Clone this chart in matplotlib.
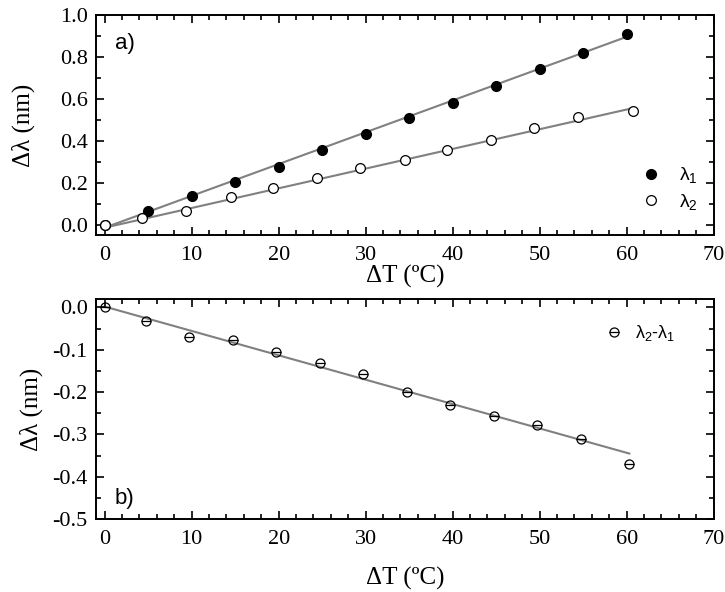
import matplotlib
matplotlib.use('Agg')
import matplotlib.pyplot as plt
from matplotlib.ticker import MultipleLocator

plt.rcParams['font.family'] = 'Liberation Serif'
plt.rcParams['mathtext.fontset'] = 'custom'
plt.rcParams['mathtext.rm'] = 'Liberation Sans'
plt.rcParams['mathtext.default'] = 'regular'

# panel a) data
t1 = [0, 5, 10, 15, 20, 25, 30, 35, 40, 45, 50, 55, 60]
lam1 = [0.0, 0.065, 0.135, 0.205, 0.275, 0.355, 0.43, 0.51, 0.58, 0.66, 0.74, 0.82, 0.91]
t2 = [0, 4.3, 9.3, 14.5, 19.4, 24.4, 29.4, 34.5, 39.4, 44.4, 49.4, 54.4, 60.7]
lam2 = [0.0, 0.03, 0.065, 0.13, 0.175, 0.22, 0.27, 0.31, 0.355, 0.405, 0.46, 0.515, 0.543]
fit1_x = [0, 60]
fit1_y = [-0.015, 0.895]
fit2_x = [0, 60.7]
fit2_y = [-0.015, 0.555]

# panel b) data
t3 = [0, 4.7, 9.7, 14.7, 19.7, 24.7, 29.7, 34.7, 39.7, 44.7, 49.7, 54.7, 60.3]
diff = [0.0, -0.033, -0.07, -0.078, -0.106, -0.132, -0.157, -0.2, -0.23, -0.256, -0.277, -0.31, -0.37]
fit3_x = [0, 60.3]
fit3_y = [0.002, -0.345]

fig = plt.figure(figsize=(7.25, 5.92), dpi=100)
ax1 = fig.add_axes([0.1324, 0.603, 0.852, 0.372])
ax2 = fig.add_axes([0.1324, 0.123, 0.852, 0.372])

line_col = '#808080'
ax1.plot(fit1_x, fit1_y, color=line_col, lw=1.5, zorder=1)
ax1.plot(fit2_x, fit2_y, color=line_col, lw=1.5, zorder=1)
ax1.plot(t1, lam1, 'o', color='black', ms=7, ls='none', label='λ$_1$', zorder=3)
ax1.plot(t2, lam2, 'o', mfc='white', mec='black', mew=0.9, ms=7, ls='none', label='λ$_2$', zorder=3)

ax2.plot(fit3_x, fit3_y, color=line_col, lw=1.5, zorder=1)
h_circ, = ax2.plot(t3, diff, 'o', mfc='none', mec='black', mew=0.9, ms=6.5, ls='none', zorder=3)
h_bar, = ax2.plot(t3, diff, '_', color='black', mew=0.9, ms=6.5, ls='none', zorder=3)

for ax in (ax1, ax2):
    ax.set_xlim(-1, 70)
    ax.xaxis.set_major_locator(MultipleLocator(10))
    ax.xaxis.set_minor_locator(MultipleLocator(2))
    ax.tick_params(which='both', direction='in', top=True, right=True, labelsize=16, width=1.2)
    ax.tick_params(which='major', length=6)
    ax.tick_params(which='minor', length=3.5)
    ax.tick_params(axis='x', which='both', pad=8)
    ax.tick_params(axis='y', which='both', pad=6)
    for s in ax.spines.values():
        s.set_linewidth(1.4)
    ax.set_xlabel('ΔT (ºC)', fontsize=18, va='center', ha='center')
    ax.set_ylabel('Δλ (nm)', fontsize=18, va='center', ha='center')

ax1.set_ylim(-0.05, 1.0)
ax1.yaxis.set_minor_locator(MultipleLocator(0.1))
ax1.set_yticks([0, 0.2, 0.4, 0.6, 0.8, 1.0])
ax1.set_yticklabels(['0.0', '0.2', '0.4', '0.6', '0.8', '1.0'])
ax1.xaxis.set_label_coords(0.5, -0.19)
ax1.yaxis.set_label_coords(-0.118, 0.5)
ax1.text(0.03, 0.845, 'a)', transform=ax1.transAxes, fontsize=16, family='Liberation Sans')
ax1.legend(loc='center left', bbox_to_anchor=(0.853, 0.21), frameon=False,
           prop={'family': 'Liberation Sans', 'size': 14}, handletextpad=0.95,
           labelspacing=0.35, handlelength=1.05)

ax2.set_ylim(-0.5, 0.02)
ax2.yaxis.set_minor_locator(MultipleLocator(0.05))
ax2.set_yticks([0, -0.1, -0.2, -0.3, -0.4, -0.5])
ax2.set_yticklabels(['0.0', '-0.1', '-0.2', '-0.3', '-0.4', '-0.5'])
ax2.xaxis.set_label_coords(0.5, -0.268)
ax2.yaxis.set_label_coords(-0.105, 0.5)
ax2.text(0.03, 0.07, 'b)', transform=ax2.transAxes, fontsize=16, family='Liberation Sans')
ax2.legend([(h_circ, h_bar)], ['λ$_2$-λ$_1$'], loc='center left', bbox_to_anchor=(0.796, 0.845),
           frameon=False, prop={'family': 'Liberation Sans', 'size': 13},
           handletextpad=0.6, handlelength=1.1)

fig.savefig('out.png', dpi=100)
